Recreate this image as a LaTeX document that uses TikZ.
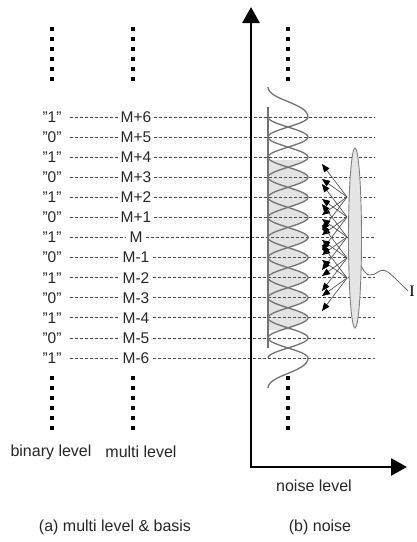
\documentclass[tikz,border=0pt]{standalone}
\usepackage{fontspec}
\setmainfont{Liberation Sans}
\newfontfamily\seriffont{Liberation Serif}
\usetikzlibrary{arrows.meta,shapes.geometric}
\begin{document}
\begin{tikzpicture}[x=1pt,y=-1pt,
  lbl/.style={font=\fontsize{15.5}{16}\selectfont, inner sep=3pt, text=black!85},
  captext/.style={font=\fontsize{16}{18}\selectfont, inner sep=0pt, text=black!85},
  guide/.style={draw=black!70, line width=0.75pt, dash pattern=on 3pt off 2pt},
  wave/.style={draw=black!55, line width=1.3pt},
  axisline/.style={line width=2.6pt, line join=miter,
    {Triangle[length=16pt,width=17pt]}-{Triangle[length=16pt,width=17pt]}},
  fan/.style={draw=black!70, line width=0.65pt, -{Triangle[length=8pt,width=6.5pt,black]}},
  dotsq/.style={fill=black}
]
\useasboundingbox (0,0) rectangle (416,542);

% square dot columns above and below the levels
\foreach \cx in {52,133,288}{
  \foreach \k in {0,...,5}{
    \fill[dotsq] (\cx-2,{29+10*\k-2}) rectangle (\cx+2,{29+10*\k+2});
    \fill[dotsq] (\cx-2,{378+10*\k-2}) rectangle (\cx+2,{378+10*\k+2});
  }
}

% shaded body of the noise distributions
\fill[black!11] plot[domain=160:330, samples=200]
  ({288+20*abs(cos((\x-117)*8.963))},\x) -- (268,330) -- (268,160) -- cycle;

% level labels and guide lines
\foreach \i in {0,...,12}{
  \pgfmathsetmacro{\yy}{117+\i*20.083}
  \pgfmathtruncatemacro{\n}{6-\i}
  \node[lbl] (b\i) at (52,\yy) {\ifodd\i ”0”\else ”1”\fi};
  \node[lbl] (m\i) at (136,\yy) {\ifnum\n>0 M+\n\else\ifnum\n=0 M\else M\n\fi\fi};
  \coordinate (r\i) at (375,\yy);
  \draw[guide] ([xshift=5pt]b\i.east) -- (m\i.west);
  \draw[guide] (m\i.east) -- (r\i);
}

% overlapping noise curves
\draw[wave] (268,107) -- (268,348);
\draw[wave] (268,87) .. controls (268,100) and (308,103) .. (308,117)
  -- plot[domain=117:358, samples=240, smooth] ({288+20*cos((\x-117)*8.963)},\x)
  .. controls (308,372) and (268,375) .. (268,388);
\draw[wave] plot[domain=117:358, samples=240, smooth] ({288-20*cos((\x-117)*8.963)},\x);

% axes
\coordinate (Ytop) at (251,7);
\coordinate (O) at (251,467);
\coordinate (Xend) at (407,467);
\draw[axisline] (Ytop) -- (O) -- (Xend);

% interference fan
\foreach \s in {197,217,237,258,278}{
  \coordinate (src) at (347,\s);
  \foreach \d in {-33,-18,18,33}{
    \coordinate (tgt) at (322,\s+\d);
    \draw[fan] (src) -- (tgt);
  }
}

% interference ellipse and its label
\node[ellipse, draw=black!50, fill=black!10, line width=0.9pt,
      minimum width=13pt, minimum height=180pt, inner sep=0pt] (E) at (355,238) {};
\node[font=\seriffont\fontsize{16}{18}\selectfont, inner sep=1pt] (I) at (412,291) {I};
\draw[black!60, line width=0.8pt] (E.-77) .. controls (367,278) and (372,276) .. (378,272)
  .. controls (386,266) and (392,276) .. (I.west);

% axis and column captions
\node[captext] (bl) at (51,452) {binary level};
\node[captext] (ml) at (141,452) {multi level};
\node[captext] (nl) at (314,486) {noise level};
\node[captext] (ca) at (115,527) {(a) multi level \& basis};
\node[captext] (cb) at (320,527) {(b) noise};
\end{tikzpicture}
\end{document}
